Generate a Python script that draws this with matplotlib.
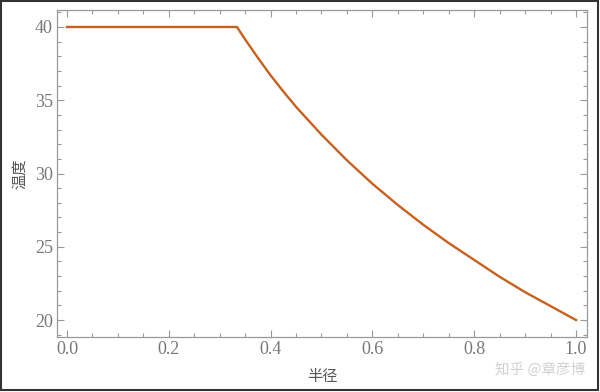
import numpy as np
import matplotlib.pyplot as plt
from matplotlib.patches import Rectangle
from matplotlib.ticker import MultipleLocator

plt.rcParams['font.family'] = ['Noto Sans CJK SC', 'DejaVu Sans']

# radius / temperature
radius = [0.0, 0.334, 0.35, 0.375, 0.40, 0.425, 0.45, 0.50, 0.55, 0.60, 0.65,
          0.70, 0.75, 0.80, 0.85, 0.90, 0.95, 1.0]
temp = [40.0, 40.0, 39.15, 37.9, 36.7, 35.6, 34.55, 32.65, 30.9, 29.3, 27.85,
        26.5, 25.25, 24.1, 22.95, 21.9, 20.95, 20.0]

x_ticks = [0.0, 0.2, 0.4, 0.6, 0.8, 1.0]
y_ticks = [20, 25, 30, 35, 40]

fig = plt.figure(figsize=(6.0, 3.92), dpi=100)
ax = fig.add_axes([57/600, 55/392, 530/600, 327/392])

ax.plot(radius, temp, color='#c8601e', lw=1.7)

ax.set_xlim(-0.0196, 1.0216)
ax.set_ylim(18.84, 41.16)
ax.set_xticks(x_ticks)
ax.set_xticklabels(['%.1f' % v for v in x_ticks])
ax.set_yticks(y_ticks)
ax.xaxis.set_minor_locator(MultipleLocator(0.05))
ax.yaxis.set_minor_locator(MultipleLocator(1))

gray = '#999999'
for s in ax.spines.values():
    s.set_color(gray)
    s.set_linewidth(0.9)
ax.tick_params(which='both', direction='in', top=True, right=True,
               color=gray, width=0.8)
ax.tick_params(which='major', length=5, labelsize=13, labelcolor='#777777', pad=3)
ax.tick_params(which='minor', length=3)
for lab in ax.get_xticklabels() + ax.get_yticklabels():
    lab.set_family('Liberation Serif')

ax.set_xlabel('半径', fontsize=11, color='#555555', labelpad=7)
ax.set_ylabel('温度', fontsize=11, color='#555555', labelpad=5)

fig.text(0.975, 0.057, '知乎 @章彦博', fontsize=10.5, color='#d0d0d0',
         ha='right', va='center')

# image border
fig.add_artist(Rectangle((0.002, 0.004), 0.995, 0.994, transform=fig.transFigure,
                         fill=False, edgecolor='#333333', lw=1.5))

fig.savefig('out.png', dpi=100)
